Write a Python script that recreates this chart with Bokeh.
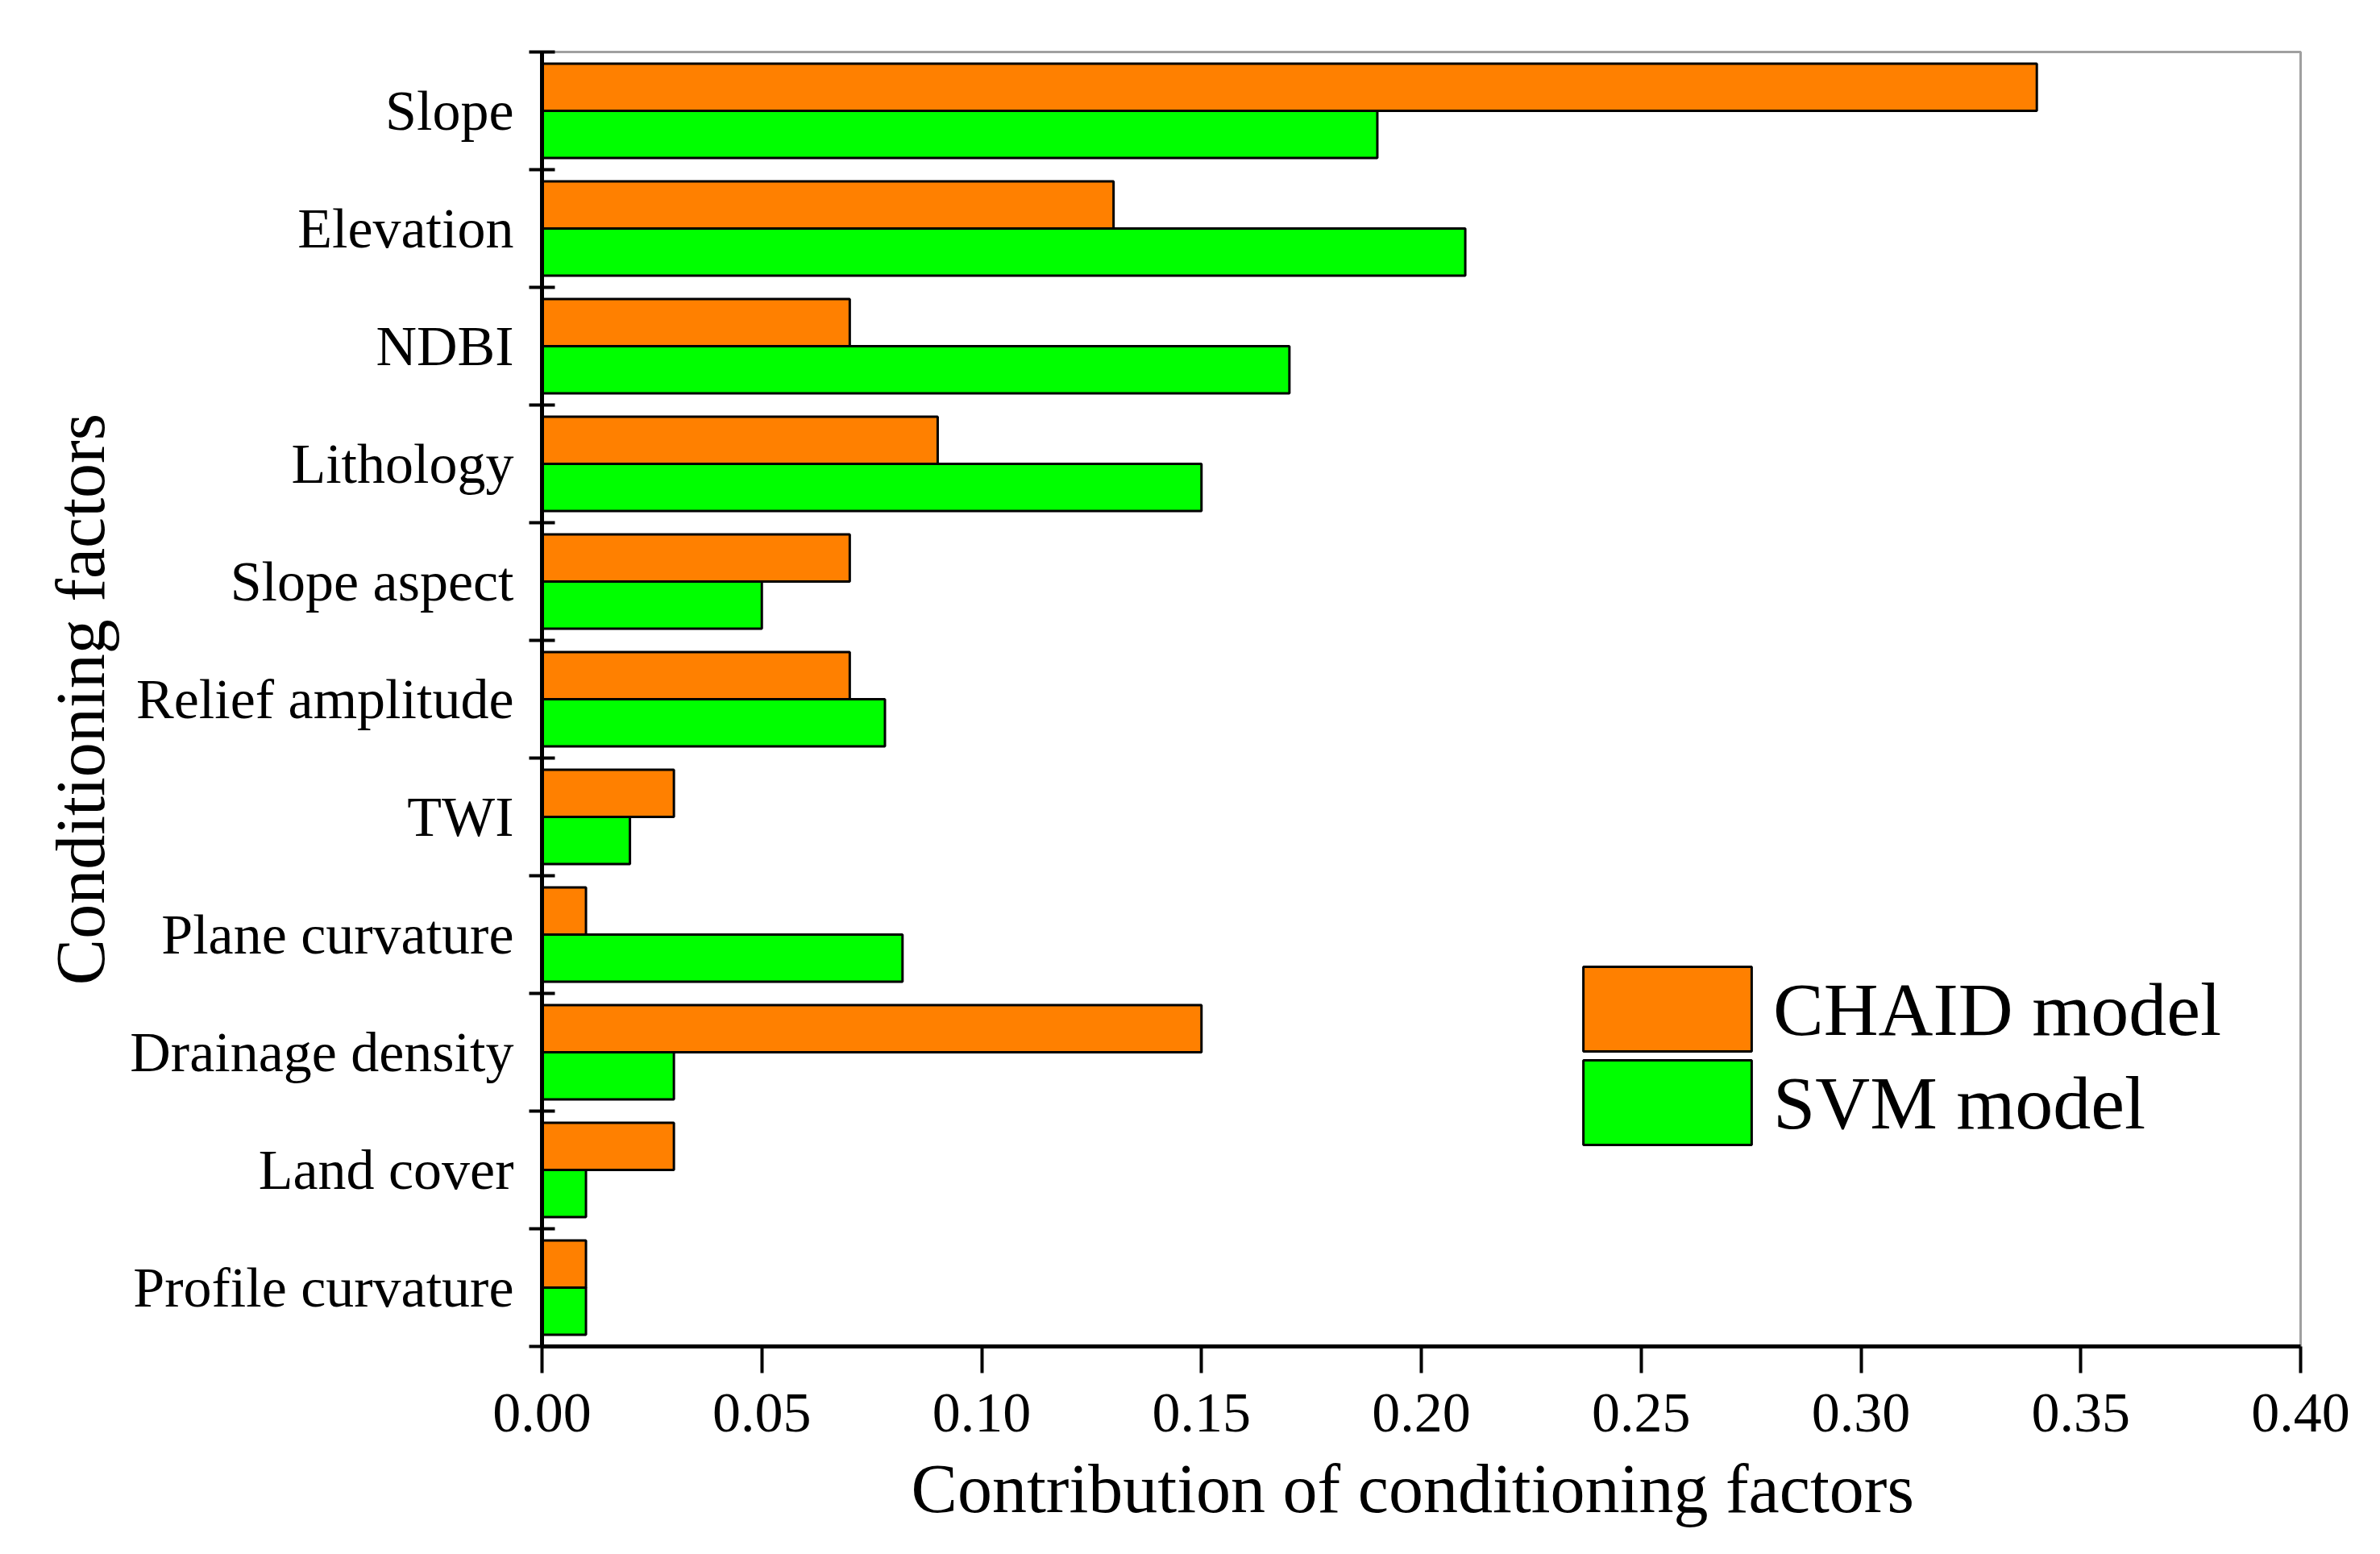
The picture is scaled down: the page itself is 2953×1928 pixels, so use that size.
from bokeh.plotting import figure
from bokeh.models import ColumnDataSource, FixedTicker, NumeralTickFormatter, Legend, LegendItem
from bokeh.embed import file_html
from bokeh.resources import INLINE

# ---- data (top to bottom) ----
factors = ["Slope", "Elevation", "NDBI", "Lithology", "Slope aspect", "Relief amplitude",
           "TWI", "Plane curvature", "Drainage density", "Land cover", "Profile curvature"]
chaid = [0.34, 0.13, 0.07, 0.09, 0.07, 0.07, 0.03, 0.01, 0.15, 0.03, 0.01]
svm = [0.19, 0.21, 0.17, 0.15, 0.05, 0.078, 0.02, 0.082, 0.03, 0.01, 0.01]
x_ticks = [0.0, 0.05, 0.10, 0.15, 0.20, 0.25, 0.30, 0.35, 0.40]

n = len(factors)
centers = [n - 0.5 - i for i in range(n)]
src = ColumnDataSource(dict(
    y_c=[c + 0.2 for c in centers],
    y_s=[c - 0.2 for c in centers],
    chaid=chaid, svm=svm, name=factors,
))

FONT = "Liberation Serif"

p = figure(frame_width=2182, frame_height=1606,
           x_range=(0, 0.40), y_range=(0, n),
           output_backend="svg", toolbar_location=None,
           min_border_left=672, min_border_top=64, min_border_right=70, min_border_bottom=230,
           background_fill_color="white", border_fill_color="white")

r1 = p.hbar(y="y_c", right="chaid", left=0, height=0.4, source=src,
            fill_color="#FF8000", line_color="black", line_width=3)
r2 = p.hbar(y="y_s", right="svm", left=0, height=0.4, source=src,
            fill_color="#00FF00", line_color="black", line_width=3)

p.xgrid.visible = False
p.ygrid.visible = False
p.outline_line_color = "#a0a0a0"
p.outline_line_width = 3

# x axis
xa = p.xaxis[0]
xa.ticker = FixedTicker(ticks=x_ticks)
xa.formatter = NumeralTickFormatter(format="0.00")
xa.axis_line_width = 5
xa.axis_line_color = "black"
xa.major_tick_line_width = 4
xa.major_tick_in = 0
xa.major_tick_out = 33
xa.minor_tick_line_color = None
xa.major_label_text_font = FONT
xa.major_label_text_font_size = "70px"
xa.major_label_text_color = "black"
xa.major_label_standoff = 26
xa.axis_label = "Contribution of  conditioning factors"
xa.axis_label_text_font = FONT
xa.axis_label_text_font_size = "86px"
xa.axis_label_text_font_style = "normal"
xa.axis_label_text_color = "black"
xa.axis_label_standoff = 20

# y axis
ya = p.yaxis[0]
ya.ticker = FixedTicker(ticks=centers, minor_ticks=list(range(n + 1)))
ya.major_label_overrides = {c: f for c, f in zip(centers, factors)}
ya.major_tick_line_color = None
ya.major_tick_in = 0
ya.major_tick_out = 0
ya.minor_tick_line_color = "black"
ya.minor_tick_line_width = 4
ya.minor_tick_in = 16
ya.minor_tick_out = 16
ya.axis_line_width = 5
ya.axis_line_color = "black"
ya.major_label_text_font = FONT
ya.major_label_text_font_size = "70px"
ya.major_label_text_color = "black"
ya.major_label_standoff = 19
ya.axis_label = "Conditioning factors"
ya.axis_label_text_font = FONT
ya.axis_label_text_font_size = "86px"
ya.axis_label_text_font_style = "normal"
ya.axis_label_text_color = "black"
ya.axis_label_standoff = 10

legend_style = dict(glyph_width=261, glyph_height=131,
                    label_text_font=FONT, label_text_font_size="94px",
                    label_text_color="black",
                    label_standoff=1, spacing=0, padding=0, margin=0,
                    border_line_alpha=0, background_fill_alpha=0)
leg1 = Legend(items=[LegendItem(label="CHAID model", renderers=[r1])],
              location=(1266, 353), **legend_style)
leg2 = Legend(items=[LegendItem(label="SVM model", renderers=[r2])],
              location=(1266, 237), **legend_style)
p.add_layout(leg1)
p.add_layout(leg2)

open("out.html", "w").write(file_html(p, INLINE))
